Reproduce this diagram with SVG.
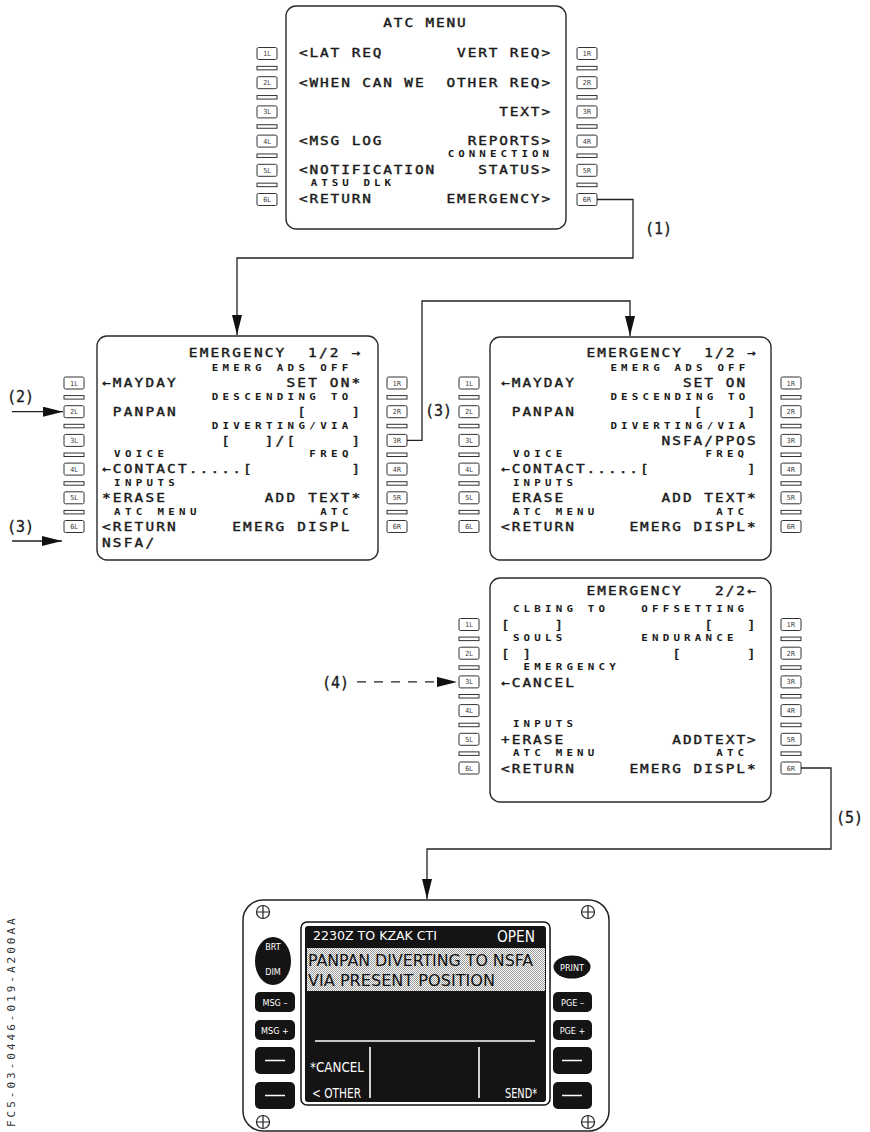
<svg xmlns="http://www.w3.org/2000/svg" width="870" height="1132" viewBox="0 0 870 1132" xml:space="preserve">
<style>
text{white-space:pre}
.scr{fill:none;stroke:#2a2a2a;stroke-width:1.4}
.k{fill:#fff;stroke:#333;stroke-width:1}
.bar{fill:#fff;stroke:#333;stroke-width:1}
.kt{font-family:"DejaVu Sans Condensed","DejaVu Sans",sans-serif;font-stretch:condensed;font-size:7px;fill:#333;text-anchor:middle}
.b{font-family:"DejaVu Sans Mono",monospace;font-size:12px;fill:#1a1a1a;stroke:#1a1a1a;stroke-width:0.4}
.s{font-family:"DejaVu Sans Mono",monospace;font-size:9px;font-weight:bold;fill:#1a1a1a}
.atc .b{letter-spacing:1.558px}
.atc .s{letter-spacing:3.364px}
.el .b{letter-spacing:1.817px}
.el .s{letter-spacing:3.623px}
.er .b{letter-spacing:1.692px}
.er .s{letter-spacing:3.498px}
.ln{fill:none;stroke:#222;stroke-width:1.3}
.dash{stroke-dasharray:9 8}
.lab{font-family:"DejaVu Sans Mono",monospace;font-size:15px;fill:#1a1a1a;stroke:#1a1a1a;stroke-width:0.3}
.side{font-family:"DejaVu Sans Mono",monospace;font-size:11px;fill:#333;letter-spacing:3px}
.dk{fill:#141414}
.wt{font-family:"DejaVu Sans Condensed","DejaVu Sans",sans-serif;font-stretch:condensed;fill:#fff}
.bt{font-family:"DejaVu Sans Condensed","DejaVu Sans",sans-serif;font-stretch:condensed;font-size:9px;fill:#fff;text-anchor:middle}
.wl{stroke:#fff;stroke-width:1.6;fill:none}
.scw{fill:#fff;stroke:#222;stroke-width:1.2}
</style>
<defs>
<marker id="ah" markerUnits="userSpaceOnUse" markerWidth="22" markerHeight="12" refX="20" refY="5" orient="auto"><path d="M0,0 L20,5 L0,10 Z" fill="#111"/></marker>
<pattern id="dots" width="2" height="2" patternUnits="userSpaceOnUse"><rect width="2" height="2" fill="#fff"/><rect width="1" height="1" fill="#999"/><rect x="1" y="1" width="1" height="1" fill="#999"/></pattern>
</defs>

<g id="atc-menu" class="atc">
<rect class="scr" x="286" y="6" width="280" height="223" rx="10"/>
<rect class="k" x="257" y="47.5" width="20" height="12" rx="1.5"/><text class="kt" x="267" y="56">1L</text>
<rect class="k" x="257" y="76.7" width="20" height="12" rx="1.5"/><text class="kt" x="267" y="85.2">2L</text>
<rect class="k" x="257" y="105.9" width="20" height="12" rx="1.5"/><text class="kt" x="267" y="114.4">3L</text>
<rect class="k" x="257" y="135.1" width="20" height="12" rx="1.5"/><text class="kt" x="267" y="143.6">4L</text>
<rect class="k" x="257" y="164.3" width="20" height="12" rx="1.5"/><text class="kt" x="267" y="172.8">5L</text>
<rect class="k" x="257" y="193.5" width="20" height="12" rx="1.5"/><text class="kt" x="267" y="202">6L</text>
<rect class="bar" x="257" y="66.35" width="20" height="3.5"/>
<rect class="bar" x="257" y="95.55" width="20" height="3.5"/>
<rect class="bar" x="257" y="124.75" width="20" height="3.5"/>
<rect class="bar" x="257" y="153.95" width="20" height="3.5"/>
<rect class="bar" x="257" y="183.15" width="20" height="3.5"/>
<rect class="k" x="577" y="47.5" width="20" height="12" rx="1.5"/><text class="kt" x="587" y="56">1R</text>
<rect class="k" x="577" y="76.7" width="20" height="12" rx="1.5"/><text class="kt" x="587" y="85.2">2R</text>
<rect class="k" x="577" y="105.9" width="20" height="12" rx="1.5"/><text class="kt" x="587" y="114.4">3R</text>
<rect class="k" x="577" y="135.1" width="20" height="12" rx="1.5"/><text class="kt" x="587" y="143.6">4R</text>
<rect class="k" x="577" y="164.3" width="20" height="12" rx="1.5"/><text class="kt" x="587" y="172.8">5R</text>
<rect class="k" x="577" y="193.5" width="20" height="12" rx="1.5"/><text class="kt" x="587" y="202">6R</text>
<rect class="bar" x="577" y="66.35" width="20" height="3.5"/>
<rect class="bar" x="577" y="95.55" width="20" height="3.5"/>
<rect class="bar" x="577" y="124.75" width="20" height="3.5"/>
<rect class="bar" x="577" y="153.95" width="20" height="3.5"/>
<rect class="bar" x="577" y="183.15" width="20" height="3.5"/>
<g transform="translate(299,0) scale(1.2,1)">
<text class="b" x="70.27" y="27">ATC MENU</text>
<text class="b" x="0" y="57.5">&lt;LAT REQ</text>
<text class="b" x="131.75" y="57.5">VERT REQ&gt;</text>
<text class="b" x="0" y="86.7">&lt;WHEN CAN WE</text>
<text class="b" x="122.97" y="86.7">OTHER REQ&gt;</text>
<text class="b" x="166.88" y="115.9">TEXT&gt;</text>
<text class="b" x="0" y="145.1">&lt;MSG LOG</text>
<text class="b" x="140.53" y="145.1">REPORTS&gt;</text>
<text class="s" x="123.97" y="157.5">CONNECTION</text>
<text class="b" x="0" y="174.3">&lt;NOTIFICATION</text>
<text class="b" x="149.32" y="174.3">STATUS&gt;</text>
<text class="s" x="9.78" y="186.5">ATSU DLK</text>
<text class="b" x="0" y="203.5">&lt;RETURN</text>
<text class="b" x="122.97" y="203.5">EMERGENCY&gt;</text>
</g>
</g>

<g id="emergency-1-left" class="el">
<rect class="scr" x="97" y="336" width="281" height="224" rx="10"/>
<rect class="k" x="64" y="377" width="20" height="12" rx="1.5"/><text class="kt" x="74" y="385.5">1L</text>
<rect class="k" x="64" y="405.7" width="20" height="12" rx="1.5"/><text class="kt" x="74" y="414.2">2L</text>
<rect class="k" x="64" y="434.4" width="20" height="12" rx="1.5"/><text class="kt" x="74" y="442.9">3L</text>
<rect class="k" x="64" y="463.1" width="20" height="12" rx="1.5"/><text class="kt" x="74" y="471.6">4L</text>
<rect class="k" x="64" y="491.8" width="20" height="12" rx="1.5"/><text class="kt" x="74" y="500.3">5L</text>
<rect class="k" x="64" y="520.5" width="20" height="12" rx="1.5"/><text class="kt" x="74" y="529">6L</text>
<rect class="bar" x="64" y="395.6" width="20" height="3.5"/>
<rect class="bar" x="64" y="424.3" width="20" height="3.5"/>
<rect class="bar" x="64" y="453" width="20" height="3.5"/>
<rect class="bar" x="64" y="481.7" width="20" height="3.5"/>
<rect class="bar" x="64" y="510.4" width="20" height="3.5"/>
<rect class="k" x="387" y="377" width="20" height="12" rx="1.5"/><text class="kt" x="397" y="385.5">1R</text>
<rect class="k" x="387" y="405.7" width="20" height="12" rx="1.5"/><text class="kt" x="397" y="414.2">2R</text>
<rect class="k" x="387" y="434.4" width="20" height="12" rx="1.5"/><text class="kt" x="397" y="442.9">3R</text>
<rect class="k" x="387" y="463.1" width="20" height="12" rx="1.5"/><text class="kt" x="397" y="471.6">4R</text>
<rect class="k" x="387" y="491.8" width="20" height="12" rx="1.5"/><text class="kt" x="397" y="500.3">5R</text>
<rect class="k" x="387" y="520.5" width="20" height="12" rx="1.5"/><text class="kt" x="397" y="529">6R</text>
<rect class="bar" x="387" y="395.6" width="20" height="3.5"/>
<rect class="bar" x="387" y="424.3" width="20" height="3.5"/>
<rect class="bar" x="387" y="453" width="20" height="3.5"/>
<rect class="bar" x="387" y="481.7" width="20" height="3.5"/>
<rect class="bar" x="387" y="510.4" width="20" height="3.5"/>
<g transform="translate(102,0) scale(1.2,1)">
<text class="b" x="72.33" y="357">EMERGENCY  1/2 →</text>
<text class="s" x="91.4" y="371.5">EMERG ADS OFF</text>
<text class="b" x="0" y="387.5">←MAYDAY</text>
<text class="b" x="153.71" y="387.5">SET ON*</text>
<text class="s" x="91.4" y="400">DESCENDING TO</text>
<text class="b" x="9.04" y="416">PANPAN</text>
<text class="b" x="162.75" y="416">[    ]</text>
<text class="s" x="91.4" y="429">DIVERTING/VIA</text>
<text class="b" x="99.46" y="445">[   ]/[     ]</text>
<text class="s" x="10.04" y="457.5">VOICE</text>
<text class="s" x="172.79" y="457.5">FREQ</text>
<text class="b" x="0" y="473.5">←CONTACT.....[</text>
<text class="b" x="207.96" y="473.5">]</text>
<text class="s" x="10.04" y="486">INPUTS</text>
<text class="b" x="0" y="502">*ERASE</text>
<text class="b" x="135.63" y="502">ADD TEXT*</text>
<text class="s" x="10.04" y="515">ATC MENU</text>
<text class="s" x="181.83" y="515">ATC</text>
<text class="b" x="0" y="531">&lt;RETURN</text>
<text class="b" x="108.5" y="531">EMERG DISPL</text>
<text class="b" x="0" y="547">NSFA/</text>
</g>
</g>

<g id="emergency-1-right" class="er">
<rect class="scr" x="490" y="337" width="281" height="223" rx="10"/>
<rect class="k" x="459" y="377" width="20" height="12" rx="1.5"/><text class="kt" x="469" y="385.5">1L</text>
<rect class="k" x="459" y="405.7" width="20" height="12" rx="1.5"/><text class="kt" x="469" y="414.2">2L</text>
<rect class="k" x="459" y="434.4" width="20" height="12" rx="1.5"/><text class="kt" x="469" y="442.9">3L</text>
<rect class="k" x="459" y="463.1" width="20" height="12" rx="1.5"/><text class="kt" x="469" y="471.6">4L</text>
<rect class="k" x="459" y="491.8" width="20" height="12" rx="1.5"/><text class="kt" x="469" y="500.3">5L</text>
<rect class="k" x="459" y="520.5" width="20" height="12" rx="1.5"/><text class="kt" x="469" y="529">6L</text>
<rect class="bar" x="459" y="395.6" width="20" height="3.5"/>
<rect class="bar" x="459" y="424.3" width="20" height="3.5"/>
<rect class="bar" x="459" y="453" width="20" height="3.5"/>
<rect class="bar" x="459" y="481.7" width="20" height="3.5"/>
<rect class="bar" x="459" y="510.4" width="20" height="3.5"/>
<rect class="k" x="781" y="377" width="20" height="12" rx="1.5"/><text class="kt" x="791" y="385.5">1R</text>
<rect class="k" x="781" y="405.7" width="20" height="12" rx="1.5"/><text class="kt" x="791" y="414.2">2R</text>
<rect class="k" x="781" y="434.4" width="20" height="12" rx="1.5"/><text class="kt" x="791" y="442.9">3R</text>
<rect class="k" x="781" y="463.1" width="20" height="12" rx="1.5"/><text class="kt" x="791" y="471.6">4R</text>
<rect class="k" x="781" y="491.8" width="20" height="12" rx="1.5"/><text class="kt" x="791" y="500.3">5R</text>
<rect class="k" x="781" y="520.5" width="20" height="12" rx="1.5"/><text class="kt" x="791" y="529">6R</text>
<rect class="bar" x="781" y="395.6" width="20" height="3.5"/>
<rect class="bar" x="781" y="424.3" width="20" height="3.5"/>
<rect class="bar" x="781" y="453" width="20" height="3.5"/>
<rect class="bar" x="781" y="481.7" width="20" height="3.5"/>
<rect class="bar" x="781" y="510.4" width="20" height="3.5"/>
<g transform="translate(501,0) scale(1.2,1)">
<text class="b" x="71.33" y="357">EMERGENCY  1/2 →</text>
<text class="s" x="91.2" y="371.5">EMERG ADS OFF</text>
<text class="b" x="0" y="387.5">←MAYDAY</text>
<text class="b" x="151.58" y="387.5">SET ON</text>
<text class="s" x="91.2" y="400">DESCENDING TO</text>
<text class="b" x="8.92" y="416">PANPAN</text>
<text class="b" x="160.5" y="416">[    ]</text>
<text class="s" x="91.2" y="429">DIVERTING/VIA</text>
<text class="b" x="133.75" y="445">NSFA/PPOS</text>
<text class="s" x="9.92" y="457.5">VOICE</text>
<text class="s" x="170.42" y="457.5">FREQ</text>
<text class="b" x="0" y="473.5">←CONTACT.....[</text>
<text class="b" x="205.08" y="473.5">]</text>
<text class="s" x="9.92" y="486">INPUTS</text>
<text class="b" x="8.92" y="502">ERASE</text>
<text class="b" x="133.75" y="502">ADD TEXT*</text>
<text class="s" x="9.92" y="515">ATC MENU</text>
<text class="s" x="179.33" y="515">ATC</text>
<text class="b" x="0" y="531">&lt;RETURN</text>
<text class="b" x="107" y="531">EMERG DISPL*</text>
</g>
</g>

<g id="emergency-2" class="er">
<rect class="scr" x="490" y="578" width="281" height="224" rx="10"/>
<rect class="k" x="459" y="618.5" width="20" height="12" rx="1.5"/><text class="kt" x="469" y="627">1L</text>
<rect class="k" x="459" y="647.2" width="20" height="12" rx="1.5"/><text class="kt" x="469" y="655.7">2L</text>
<rect class="k" x="459" y="675.9" width="20" height="12" rx="1.5"/><text class="kt" x="469" y="684.4">3L</text>
<rect class="k" x="459" y="704.6" width="20" height="12" rx="1.5"/><text class="kt" x="469" y="713.1">4L</text>
<rect class="k" x="459" y="733.3" width="20" height="12" rx="1.5"/><text class="kt" x="469" y="741.8">5L</text>
<rect class="k" x="459" y="762" width="20" height="12" rx="1.5"/><text class="kt" x="469" y="770.5">6L</text>
<rect class="bar" x="459" y="637.1" width="20" height="3.5"/>
<rect class="bar" x="459" y="665.8" width="20" height="3.5"/>
<rect class="bar" x="459" y="694.5" width="20" height="3.5"/>
<rect class="bar" x="459" y="723.2" width="20" height="3.5"/>
<rect class="bar" x="459" y="751.9" width="20" height="3.5"/>
<rect class="k" x="781" y="618.5" width="20" height="12" rx="1.5"/><text class="kt" x="791" y="627">1R</text>
<rect class="k" x="781" y="647.2" width="20" height="12" rx="1.5"/><text class="kt" x="791" y="655.7">2R</text>
<rect class="k" x="781" y="675.9" width="20" height="12" rx="1.5"/><text class="kt" x="791" y="684.4">3R</text>
<rect class="k" x="781" y="704.6" width="20" height="12" rx="1.5"/><text class="kt" x="791" y="713.1">4R</text>
<rect class="k" x="781" y="733.3" width="20" height="12" rx="1.5"/><text class="kt" x="791" y="741.8">5R</text>
<rect class="k" x="781" y="762" width="20" height="12" rx="1.5"/><text class="kt" x="791" y="770.5">6R</text>
<rect class="bar" x="781" y="637.1" width="20" height="3.5"/>
<rect class="bar" x="781" y="665.8" width="20" height="3.5"/>
<rect class="bar" x="781" y="694.5" width="20" height="3.5"/>
<rect class="bar" x="781" y="723.2" width="20" height="3.5"/>
<rect class="bar" x="781" y="751.9" width="20" height="3.5"/>
<g transform="translate(501,0) scale(1.2,1)">
<text class="b" x="71.33" y="595">EMERGENCY   2/2←</text>
<text class="s" x="9.92" y="612.5">CLBING TO</text>
<text class="s" x="116.92" y="612.5">OFFSETTING</text>
<text class="b" x="0" y="629.5">[    ]</text>
<text class="b" x="169.42" y="629.5">[   ]</text>
<text class="s" x="9.92" y="641">SOULS</text>
<text class="s" x="116.92" y="641">ENDURANCE</text>
<text class="b" x="0" y="658">[ ]</text>
<text class="b" x="142.67" y="658">[      ]</text>
<text class="s" x="18.83" y="670">EMERGENCY</text>
<text class="b" x="0" y="687">←CANCEL</text>
<text class="s" x="9.92" y="727.5">INPUTS</text>
<text class="b" x="0" y="744.5">+ERASE</text>
<text class="b" x="142.67" y="744.5">ADDTEXT&gt;</text>
<text class="s" x="9.92" y="756">ATC MENU</text>
<text class="s" x="179.33" y="756">ATC</text>
<text class="b" x="0" y="773">&lt;RETURN</text>
<text class="b" x="107" y="773">EMERG DISPL*</text>
</g>
</g>

<g id="dcdu">
<rect x="243" y="900" width="366" height="231" rx="20" fill="#fff" stroke="#222" stroke-width="1.5"/>
<g class="scw">
<circle cx="263" cy="912" r="6.5"/><path d="M256.5,912 H269.5 M263,905.5 V918.5"/>
<circle cx="588" cy="912" r="6.5"/><path d="M581.5,912 H594.5 M588,905.5 V918.5"/>
<circle cx="263" cy="1122" r="6.5"/><path d="M256.5,1122 H269.5 M263,1115.5 V1128.5"/>
<circle cx="588" cy="1122" r="6.5"/><path d="M581.5,1122 H594.5 M588,1115.5 V1128.5"/>
</g>
<rect x="301" y="922" width="249" height="183" rx="6" fill="#fff" stroke="#111" stroke-width="1.5"/>
<rect class="dk" x="305" y="926" width="241" height="176" rx="3"/>
<rect x="307" y="948" width="238" height="43" fill="url(#dots)"/>
<text class="wt" x="313" y="940" font-size="12" textLength="124" lengthAdjust="spacingAndGlyphs">2230Z TO KZAK CTI</text>
<text class="wt" x="497" y="942" font-size="16" textLength="38" lengthAdjust="spacingAndGlyphs">OPEN</text>
<text x="308" y="966" font-family="DejaVu Sans Condensed, DejaVu Sans, sans-serif" font-stretch="condensed" font-size="16.5" fill="#111" textLength="225" lengthAdjust="spacingAndGlyphs">PANPAN DIVERTING TO NSFA</text>
<text x="308" y="986" font-family="DejaVu Sans Condensed, DejaVu Sans, sans-serif" font-stretch="condensed" font-size="16.5" fill="#111" textLength="187" lengthAdjust="spacingAndGlyphs">VIA PRESENT POSITION</text>
<path class="wl" d="M315,1041 H535 M370,1047 V1098 M479,1047 V1098"/>
<text class="wt" x="310" y="1072" font-size="14" textLength="54" lengthAdjust="spacingAndGlyphs">*CANCEL</text>
<text class="wt" x="312" y="1098" font-size="14" textLength="49" lengthAdjust="spacingAndGlyphs">&lt; OTHER</text>
<text class="wt" x="505" y="1098" font-size="14" textLength="32" lengthAdjust="spacingAndGlyphs">SEND*</text>
<ellipse class="dk" cx="273" cy="961" rx="18" ry="24"/>
<text class="bt" x="273" y="950">BRT</text>
<text class="bt" x="273" y="975">DIM</text>
<rect class="dk" x="255" y="992" width="40" height="20" rx="5"/><text class="bt" x="275" y="1005.5">MSG –</text>
<rect class="dk" x="255" y="1020" width="40" height="20" rx="5"/><text class="bt" x="275" y="1033.5">MSG +</text>
<rect class="dk" x="255" y="1047" width="40" height="27" rx="5"/>
<rect class="dk" x="255" y="1082" width="40" height="27" rx="5"/>
<path class="wl" d="M265,1060.5 H285 M265,1095.5 H285"/>
<ellipse class="dk" cx="572" cy="967" rx="18.5" ry="11.5"/>
<text class="bt" x="572" y="970.5">PRINT</text>
<rect class="dk" x="553" y="992" width="39" height="20" rx="5"/><text class="bt" x="572.5" y="1005.5">PGE –</text>
<rect class="dk" x="553" y="1020" width="39" height="20" rx="5"/><text class="bt" x="572.5" y="1033.5">PGE +</text>
<rect class="dk" x="553" y="1047" width="39" height="27" rx="5"/>
<rect class="dk" x="553" y="1082" width="39" height="27" rx="5"/>
<path class="wl" d="M562,1060.5 H582 M562,1095.5 H582"/>
</g>

<g id="connectors">
<polyline class="ln" points="597,199.5 633,199.5 633,258 237,258 237,335" marker-end="url(#ah)"/>
<polyline class="ln" points="407,440.4 422,440.4 422,301 630,301 630,336" marker-end="url(#ah)"/>
<line class="ln" x1="12" y1="411.7" x2="63" y2="411.7" marker-end="url(#ah)"/>
<line class="ln" x1="12" y1="541" x2="62" y2="541" marker-end="url(#ah)"/>
<line class="ln dash" x1="357" y1="681.9" x2="457" y2="681.9" marker-end="url(#ah)"/>
<polyline class="ln" points="801,768 831,768 831,849 427,849 427,899" marker-end="url(#ah)"/>
</g>

<g id="labels">
<text class="lab" x="645" y="234">(1)</text>
<text class="lab" x="7" y="402">(2)</text>
<text class="lab" x="7" y="532">(3)</text>
<text class="lab" x="425" y="416">(3)</text>
<text class="lab" x="322" y="688">(4)</text>
<text class="lab" x="836" y="823">(5)</text>
<text class="side" transform="translate(15,1127) rotate(-90)">FC5-03-0446-019-A200AA</text>
</g>
</svg>
